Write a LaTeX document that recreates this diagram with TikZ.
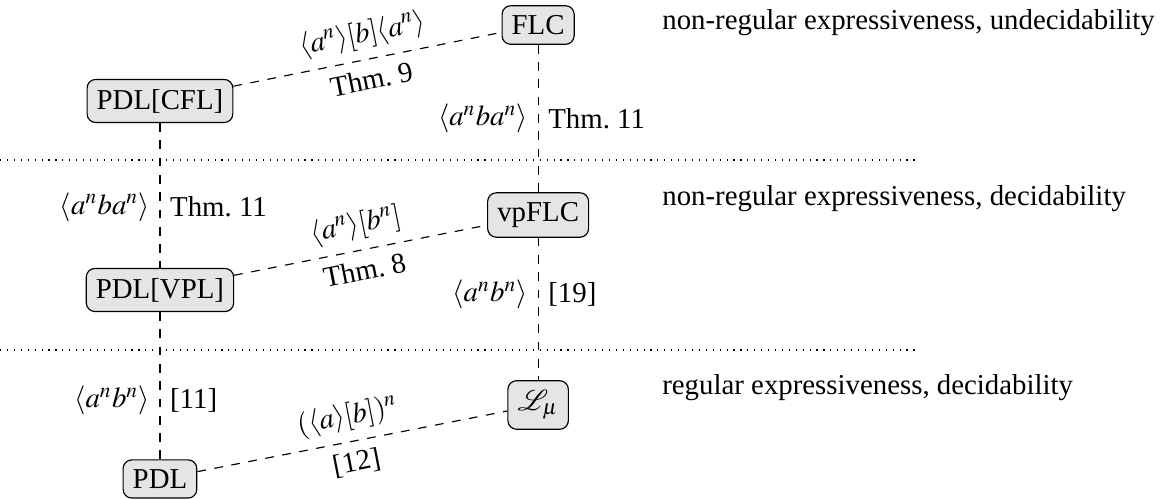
\documentclass[tikz,border=0pt]{standalone}
\usepackage{mathptmx}
\usepackage{mathrsfs}
\usepackage[no-math]{fontspec}
\setmainfont{Liberation Serif}
\tikzset{logic/.style={draw, rounded corners=3pt, fill=gray!20}}

\begin{document}
\begin{tikzpicture}
\useasboundingbox (0,-6.071) rectangle (14.153,0);
\node [logic] (flc) at (6.56,-0.305) {FLC};
\node [logic] (cfl) at (1.95,-1.231) {PDL[CFL]};
\node [logic] (vpflc) at (6.56,-2.621) {vpFLC};
\node [logic] (vpl) at (1.95,-3.535) {PDL[VPL]};
\node [logic] (lmu) at (6.56,-4.937) {$\mathscr{L}_\mu$};
\node [logic] (pdl) at (1.95,-5.839) {PDL};
% levels
\draw [dotted] (0,-1.95)--(11.19,-1.95);
\draw [dotted] (0,-4.267)--(11.19,-4.267);
\node [right] (undec) at (7.95,-0.27) {non-regular expressiveness, undecidability};
\node [right] (dec) at (7.95,-2.42) {non-regular expressiveness, decidability};
\node [right] (reg) at (7.95,-4.73) {regular expressiveness, decidability};
% vertical edges
\draw [dashed] (flc)-- node [left] {$\langle a^nba^n\rangle$} node [right] {Thm.~11} (vpflc);
\draw [dashed] (vpflc)-- node [pos=.4,left] {$\langle a^nb^n\rangle$} node [pos=.4,right] {[19]} (lmu);
\draw [dashed] (cfl)-- node [pos=.58,left] {$\langle a^nba^n\rangle$} node [pos=.58,right] {Thm.~11} (vpl);
\draw [dashed] (vpl)-- node [pos=.6,left] {$\langle a^nb^n\rangle$} node [pos=.6,right] {[11]} (pdl);
% diagonal edges
\draw [dashed] (cfl)-- node [sloped,above] {$\langle a^n\rangle[b]\langle a^n\rangle$} node [sloped,below] {Thm.~9} (flc);
\draw [dashed] (vpl)-- node [sloped,above] {$\langle a^n\rangle[b^n]$} node [sloped,below] {Thm.~8} (vpflc);
\draw [dashed] (pdl)-- node [sloped,above] {$(\langle a\rangle[b])^n$} node [sloped,below] {[12]} (lmu);
\end{tikzpicture}
\end{document}
